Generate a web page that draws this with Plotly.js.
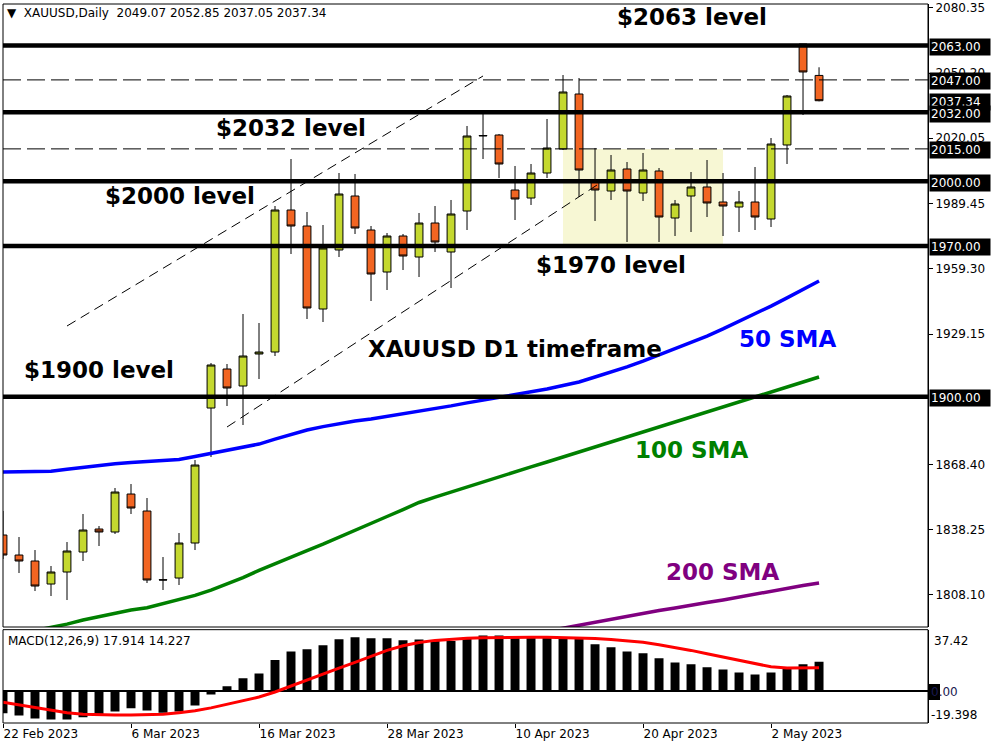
<!DOCTYPE html>
<html><head><meta charset="utf-8">
<script src="https://cdn.plot.ly/plotly-3.0.1.min.js"></script>
<style>html,body{margin:0;padding:0;background:#fff;}#chart{width:1000px;height:750px;}</style>
</head><body><div id="chart"></div>
<script>
// ---------- data ----------
const dates = ['22 Feb 2023','23 Feb 2023','24 Feb 2023','27 Feb 2023','28 Feb 2023','1 Mar 2023','2 Mar 2023','3 Mar 2023',
 '6 Mar 2023','7 Mar 2023','8 Mar 2023','9 Mar 2023','10 Mar 2023','13 Mar 2023','14 Mar 2023','15 Mar 2023',
 '16 Mar 2023','17 Mar 2023','20 Mar 2023','21 Mar 2023','22 Mar 2023','23 Mar 2023','24 Mar 2023','27 Mar 2023',
 '28 Mar 2023','29 Mar 2023','30 Mar 2023','31 Mar 2023','3 Apr 2023','4 Apr 2023','5 Apr 2023','6 Apr 2023',
 '10 Apr 2023','11 Apr 2023','12 Apr 2023','13 Apr 2023','14 Apr 2023','17 Apr 2023','18 Apr 2023','19 Apr 2023',
 '20 Apr 2023','21 Apr 2023','24 Apr 2023','25 Apr 2023','26 Apr 2023','27 Apr 2023','28 Apr 2023','1 May 2023',
 '2 May 2023','3 May 2023','4 May 2023','5 May 2023'];
const dateTickLabels = ['22 Feb 2023','6 Mar 2023','16 Mar 2023','28 Mar 2023','10 Apr 2023','20 Apr 2023','2 May 2023'];

const open = [1835.92,1826.64,1823.86,1813.19,1818.76,1828.03,1838.70,1837.31,1854.93,1847.05,
 1815.20,1815.97,1832.21,1894.82,1912.91,1905.03,1919.87,1920.80,1986.66,1979.24,
 1940.74,1968.11,1993.15,1977.38,1957.90,1974.60,1964.86,1980.63,1967.18,1986.19,
 2020.98,2021.44,1995.93,1992.22,2003.82,2014.95,2040.46,1999.65,1995.47,2005.68,
 1994.54,2004.75,1982.95,1993.15,1997.33,1990.37,1988.05,1990.37,1982.48,2016.81,
 2063.65,2049.07];
const high = [1847.05,1834.99,1828.96,1821.54,1832.67,1845.66,1840.09,1857.72,1859.57,1853.08,
 1825.71,1836.84,1870.70,1915.69,1915.23,1938.42,1934.25,1988.51,2010.31,1985.73,
 1979.70,2003.82,2003.36,1979.24,1975.99,1975.53,1985.27,1988.51,1991.30,2025.62,
 2031.19,2021.91,2007.07,2007.99,2028.87,2049.27,2047.88,2015.42,2012.17,2008.92,
 2013.10,2006.14,1991.30,2004.28,2009.85,2003.82,1995.47,2006.60,2020.05,2040.00,
 2063.65,2052.85];
const low = [1824.79,1818.29,1809.94,1807.62,1805.77,1823.86,1830.82,1836.40,1845.66,1813.65,
 1810.41,1812.73,1828.96,1872.09,1895.75,1886.94,1908.27,1918.94,1966.25,1936.10,
 1934.71,1964.86,1975.53,1944.45,1949.55,1958.83,1955.58,1967.18,1950.48,1977.38,
 2010.31,2001.50,1982.02,1988.98,2001.50,2014.49,1992.69,1981.56,1991.30,1971.82,
 1990.83,1971.82,1974.60,1976.45,1983.41,1974.60,1976.45,1977.38,1978.77,2007.99,
 2030.72,2037.05];
const close = [1826.64,1823.86,1812.26,1818.76,1828.50,1838.24,1837.31,1855.86,1848.44,1815.05,
 1815.05,1832.21,1868.38,1914.77,1904.10,1918.94,1920.80,1986.66,1979.24,1941.20,
 1969.03,1994.08,1978.31,1956.97,1974.60,1965.32,1980.63,1971.82,1984.80,2020.98,
 2021.20,2007.99,1991.76,2003.82,2015.42,2041.39,2005.21,1995.93,2005.21,1995.47,
 2005.21,1983.41,1989.44,1997.33,1989.91,1988.51,1990.37,1983.41,2017.27,2039.53,
 2050.67,2037.34];

const sma50 = [1865.1,1865.1,1865.1,1865.5,1866.4,1867.4,1868.4,1869.0,1869.5,1870.0,
 1870.5,1870.9,1872.3,1873.7,1875.1,1876.3,1878.1,1880.4,1882.5,1884.6,
 1886.2,1887.6,1888.8,1889.7,1890.9,1892.0,1893.1,1894.4,1895.8,1897.2,
 1898.5,1899.9,1901.1,1902.2,1903.6,1905.3,1906.9,1909.2,1911.5,1913.9,
 1916.6,1919.4,1922.2,1925.0,1928.2,1931.5,1935.0,1938.4,1942.1,1945.9,
 1950.0,1953.7];
const sma100 = [1788.6,1790.0,1791.4,1793.0,1794.6,1796.5,1798.1,1799.7,1801.1,1802.2,
 1804.2,1806.0,1807.9,1810.4,1813.2,1816.2,1819.5,1822.7,1825.7,1828.7,
 1831.7,1835.0,1838.0,1841.3,1844.5,1847.7,1851.0,1853.5,1855.9,1858.2,
 1860.5,1862.8,1865.1,1867.5,1869.8,1872.1,1874.4,1876.7,1879.1,1881.4,
 1883.7,1886.0,1888.3,1890.7,1893.0,1895.3,1897.6,1899.9,1902.2,1904.6,
 1906.9,1909.2];
const sma200 = [null,null,null,null,null,null,null,null,null,null,
 null,null,null,null,null,null,null,null,null,null,
 null,null,null,null,null,null,null,null,null,null,
 null,null,1788.6,1790.0,1791.4,1792.8,1794.2,1795.6,1797.0,1798.3,
 1799.7,1800.9,1802.1,1803.5,1804.6,1805.8,1807.2,1808.6,1810.0,1811.4,
 1812.5,1813.7];

const macdHist = [-13.4,-14.9,-16.7,-17.3,-17.3,-15.9,-14.1,-12.4,-10.4,-11.8,
 -13.2,-12.4,-8.8,-2.0,2.9,7.9,10.8,18.9,24.2,25.5,
 27.9,31.6,32.8,32.2,32.2,31.0,31.4,30.5,30.5,32.6,
 33.8,33.8,32.6,32.6,32.6,32.6,32.2,28.5,26.7,24.2,
 23.0,20.0,17.5,16.3,14.5,13.2,11.4,10.2,11.4,13.6,
 16.3,17.9];
const macdSignal = [-6.7,-8.3,-9.9,-11.5,-13.1,-14.0,-14.4,-14.5,-14.5,-14.4,
 -14.0,-13.1,-12.0,-10.2,-8.0,-5.8,-3.6,-0.5,3.2,7.0,
 10.4,14.0,17.5,21.3,24.8,27.6,29.6,30.9,31.7,32.2,
 32.5,32.7,32.8,32.8,32.8,32.7,32.5,32.1,31.5,30.7,
 29.7,28.3,26.7,24.8,22.8,20.8,18.8,16.5,14.8,14.1,
 14.1,14.2];

const priceTicks = [2080.35,2050.20,2020.05,1989.45,1959.30,1929.15,1868.40,1838.25,1808.10];
const thickLevels = [2063, 2032, 2000, 1970, 1900];
const dashedLevels = [2047, 2015];
const boxedPrices = [2063.00, 2047.00, 2037.34, 2032.00, 2015.00, 2000.00, 1970.00, 1900.00];
const macdLabels = ['37.42','0.00','-19.398'];
const headerText = 'XAUUSD,Daily\u00a0\u00a02049.07 2052.85 2037.05 2037.34';
const macdText = 'MACD(12,26,9) 17.914 14.227';
const levelTexts = ['$2063 level','$2032 level','$2000 level','$1970 level','$1900 level','XAUUSD D1 timeframe'];
const smaTexts = ['50 SMA','100 SMA','200 SMA'];

// ---------- layout helpers ----------
const L = 3, R = 72, T = 4, B = 27, W = 1000, H = 750;
const PW = W - L - R, PH = H - T - B;
const px = x => (x - L) / PW;
const py = y => (H - B - y) / PH;
const idx = dates.map((d, i) => i);
const tickIdx = dateTickLabels.map(l => dates.indexOf(l));

const traces = [
  {type:'candlestick', x: idx, open, high, low, close, xaxis:'x', yaxis:'y',
   increasing:{line:{color:'#000', width:1}, fillcolor:'#c4d82f'},
   decreasing:{line:{color:'#000', width:1}, fillcolor:'#f26522'},
   whiskerwidth:0, hoverinfo:'skip', showlegend:false},
  {type:'scatter', mode:'lines', x: idx, y: sma200, xaxis:'x', yaxis:'y', line:{color:'#800080', width:3.5}, hoverinfo:'skip', showlegend:false},
  {type:'scatter', mode:'lines', x: idx, y: sma100, xaxis:'x', yaxis:'y', line:{color:'#008000', width:3.5}, hoverinfo:'skip', showlegend:false},
  {type:'scatter', mode:'lines', x: idx, y: sma50, xaxis:'x', yaxis:'y', line:{color:'#0000ff', width:3.5}, hoverinfo:'skip', showlegend:false},
  {type:'bar', x: idx, y: macdHist, xaxis:'x', yaxis:'y2', marker:{color:'#000'}, width:0.56, hoverinfo:'skip', showlegend:false},
  {type:'scatter', mode:'lines', x: idx, y: macdSignal, xaxis:'x', yaxis:'y2', line:{color:'#ff0000', width:3}, hoverinfo:'skip', showlegend:false}
];

const shapes = [];
shapes.push({type:'rect', xref:'x', yref:'y', x0:35, x1:45, y0:1970, y1:2015, fillcolor:'#f7f7d4', line:{width:0}, layer:'below'});
shapes.push({type:'line', xref:'x', yref:'y', x0:4.0, y0:1932.86, x1:30.0, y1:2048.81, line:{color:'#000', width:1, dash:'10px,6px'}, layer:'above'});
shapes.push({type:'line', xref:'x', yref:'y', x0:14.0, y0:1886.01, x1:37.125, y1:1998.25, line:{color:'#000', width:1, dash:'10px,6px'}, layer:'above'});
dashedLevels.forEach(v => shapes.push({type:'line', xref:'paper', yref:'y', x0:0, x1:1, y0:v, y1:v, line:{color:'#000', width:1, dash:'18px,6px'}, layer:'above'}));
thickLevels.forEach(v => shapes.push({type:'line', xref:'paper', yref:'y', x0:0, x1:1, y0:v, y1:v, line:{color:'#000', width:4.5}, layer:'above'}));
shapes.push({type:'rect', xref:'paper', yref:'y domain', x0:0, x1:1, y0:0, y1:1, line:{color:'#000', width:1}, fillcolor:'rgba(0,0,0,0)', layer:'above'});
shapes.push({type:'rect', xref:'paper', yref:'y2 domain', x0:0, x1:1, y0:0, y1:1, line:{color:'#000', width:1}, fillcolor:'rgba(0,0,0,0)', layer:'above'});
shapes.push({type:'rect', xref:'paper', yref:'paper', x0:px(929), x1:px(940), y0:py(700), y1:py(684), fillcolor:'#000', line:{width:0}, layer:'below'});

const annotations = [];
const bigFont = {family:'DejaVu Sans', size:23, color:'#000'};
const textPos = [[692,17],[291,128],[180,196],[611,265],[99,370],[515,349]];
levelTexts.forEach((t, i) => annotations.push({text:'<b>'+t+'</b>', xref:'paper', yref:'paper', x:px(textPos[i][0]), y:py(textPos[i][1]), showarrow:false, xanchor:'center', yanchor:'middle', font:bigFont}));
const smaPos = [[787,339],[691,450],[722,572]];
const smaColors = ['#0000ff','#008000','#800080'];
smaTexts.forEach((t, i) => annotations.push({text:'<b>'+t+'</b>', xref:'paper', yref:'paper', x:px(smaPos[i][0]), y:py(smaPos[i][1]), showarrow:false, xanchor:'center', yanchor:'middle', font:{family:'DejaVu Sans', size:23, color:smaColors[i]}}));
boxedPrices.forEach(v => annotations.push({text:v.toFixed(2), xref:'paper', yref:'y', x:px(929), y:v, yshift:-1.5, xanchor:'left', yanchor:'middle', showarrow:false, bgcolor:'#000', width:58, height:14, align:'left', borderpad:1, font:{family:'DejaVu Sans', size:12, color:'#fff'}}));
annotations.push({text:'\u25BC\u00a0\u00a0' + headerText, xref:'paper', yref:'paper', x:px(5), y:py(13), xanchor:'left', yanchor:'middle', showarrow:false, font:{family:'DejaVu Sans', size:12, color:'#000'}});
annotations.push({text:macdText, xref:'paper', yref:'paper', x:px(6), y:py(641), xanchor:'left', yanchor:'middle', showarrow:false, font:{family:'DejaVu Sans', size:12, color:'#000'}});
const macdLabelPos = [[932,641],[929,692],[929,715]];
macdLabels.forEach((t, i) => annotations.push({text:t, xref:'paper', yref:'paper', x:px(macdLabelPos[i][0]), y:py(macdLabelPos[i][1]), xanchor:'left', yanchor:'middle', showarrow:false, font:{family:'DejaVu Sans', size:12, color: i === 1 ? '#1a1a50' : '#000'}}));

const layout = {
  width: W, height: H,
  margin: {l:L, r:R, t:T, b:B, pad:0},
  paper_bgcolor:'#fff', plot_bgcolor:'#fff',
  font:{family:'DejaVu Sans', size:12, color:'#000'},
  showlegend:false,
  bargap:0.44,
  xaxis:{anchor:'y2', range:[0, 57.81], tickvals: tickIdx, ticktext: dateTickLabels,
    ticks:'outside', ticklen:4, tickcolor:'#000', ticklabelposition:'outside right',
    showgrid:false, zeroline:false, showline:false, rangeslider:{visible:false},
    tickfont:{family:'DejaVu Sans', size:12, color:'#000'}, fixedrange:true},
  yaxis:{domain:[0.1335, 1], anchor:'x', side:'right', range:[1793.25, 2082.2],
    tickvals: priceTicks, tickformat:'.2f', ticks:'outside', ticklen:4, tickcolor:'#000',
    showline:true, linecolor:'#000', linewidth:1, showgrid:false, zeroline:false,
    tickfont:{family:'DejaVu Sans', size:12, color:'#000'}, fixedrange:true},
  yaxis2:{domain:[0, 0.1298], anchor:'x', side:'right', range:[-19.398, 37.42],
    showticklabels:false, ticks:'', showline:true, linecolor:'#000', linewidth:1,
    showgrid:false, zeroline:true, zerolinecolor:'#000', zerolinewidth:2, fixedrange:true},
  shapes, annotations
};

Plotly.newPlot('chart', traces, layout, {staticPlot:true, displayModeBar:false});
</script>
</body></html>
